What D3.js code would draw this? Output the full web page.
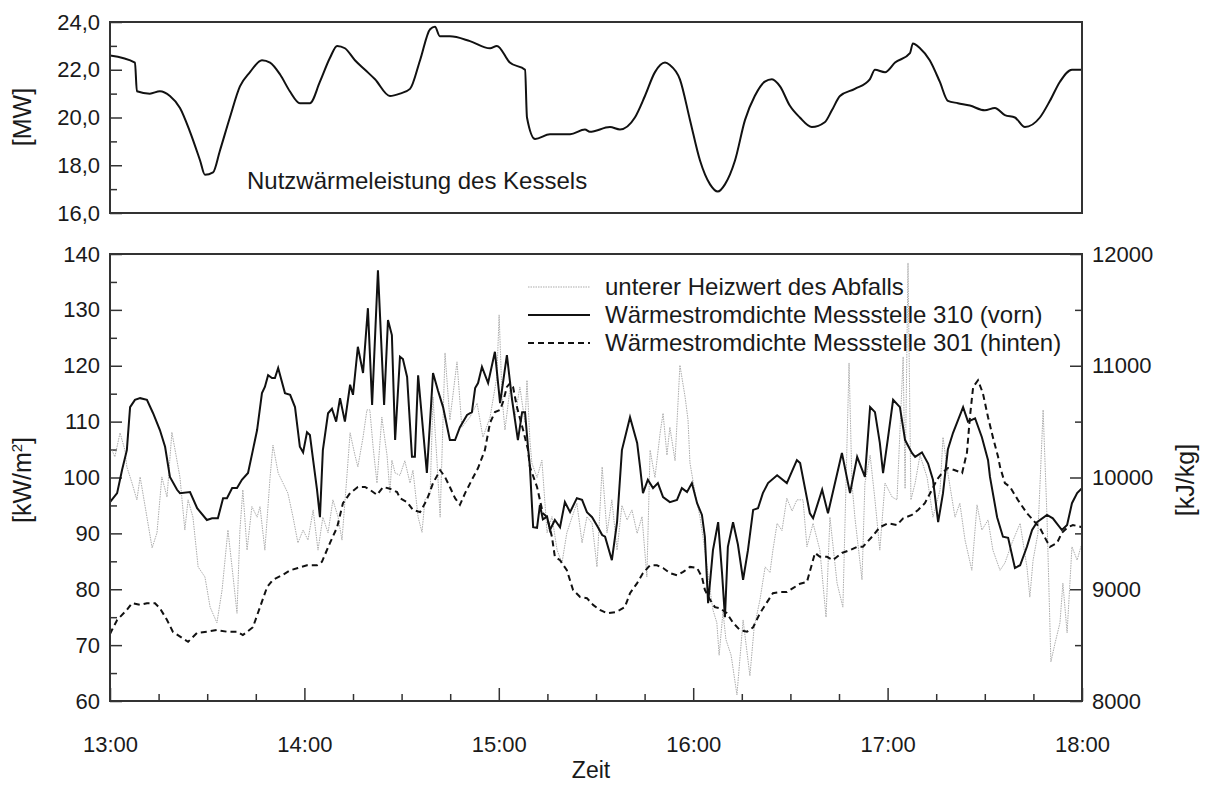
<!DOCTYPE html>
<html>
<head>
<meta charset="utf-8">
<script src="https://cdn.jsdelivr.net/npm/d3@7"></script>
<style>
  body { margin: 0; background: #fff; }
  text { font-family: "Liberation Sans", Arial, sans-serif; fill: #1a1a1a; }
</style>
</head>
<body>
<svg></svg>
<script>
// time in minutes after 13:00
const timeTicks = [0, 60, 120, 180, 240, 300];

// Nutzwärmeleistung des Kessels [MW]
const boiler = [[0,22.6],[7.7,22.3],[8.3,21.1],[12.3,21.0],[15.4,21.1],[18.5,20.9],[21.6,20.4],[24.7,19.4],[27.8,18.2],[29.3,17.6],[31.8,17.7],[33.9,18.6],[37.0,20.0],[40.1,21.3],[43.2,21.9],[46.9,22.4],[49.4,22.3],[52.5,21.8],[55.5,21.1],[58.6,20.6],[61.7,20.6],[64.8,21.5],[67.9,22.5],[70.1,23.0],[72.5,22.9],[75.6,22.4],[78.7,22.0],[81.8,21.6],[86.4,20.9],[89.5,21.0],[92.6,21.2],[95.7,22.4],[98.8,23.7],[100.3,23.8],[101.8,23.4],[104.9,23.4],[111.1,23.2],[117.3,22.9],[119.4,23.0],[123.4,22.3],[128.1,22.0],[128.7,20.0],[131.2,19.1],[135.8,19.3],[142,19.3],[146.6,19.5],[148.1,19.4],[154.3,19.6],[157.4,19.5],[162,20.0],[165.1,20.9],[168.2,21.9],[171.3,22.3],[172.8,22.2],[175.9,21.6],[179,19.9],[182.1,18.2],[185.2,17.2],[187.6,16.9],[189.8,17.2],[192.9,18.2],[196,19.9],[199,20.9],[202.1,21.5],[204.3,21.6],[206.8,21.3],[209.8,20.5],[212.9,20.0],[216.6,19.6],[220.6,19.8],[222.8,20.3],[225.3,20.9],[229.9,21.2],[234.5,21.6],[236.1,22.0],[239.2,21.9],[242.3,22.3],[246.9,22.7],[247.8,23.1],[250,22.9],[253,22.4],[256.1,21.5],[258.6,20.7],[261.7,20.6],[265.4,20.5],[270,20.3],[273.1,20.4],[276.2,20.1],[279.3,20.0],[282.4,19.6],[287,20.0],[290.1,20.7],[293.2,21.5],[296.9,22.0],[300,22.0]];

// unterer Heizwert des Abfalls [kJ/kg]
const heizwert = [[0.6,10245],[1.5,10185],[3.1,10400],[4.6,10245],[5.2,10095],[6.8,9950],[8.3,9800],[9.3,10005],[11.4,9645],[13.0,9370],[14.5,9505],[16.0,10005],[17.6,9825],[19.1,10405],[20.1,10245],[21.6,10000],[23.1,9530],[24.1,9800],[25.6,9645],[27.2,9200],[29.3,9110],[30.9,8840],[33.0,8700],[34.6,8995],[36.4,9530],[38.0,9110],[39.2,8785],[40.1,9530],[41.0,9890],[42.3,9350],[43.8,9740],[45.4,9645],[46.3,9740],[47.8,9350],[49.4,10000],[50.3,10290],[51.9,10040],[53.4,9950],[54.9,9860],[56.5,9645],[58.0,9415],[59.6,9530],[61.1,9440],[62.7,9710],[64.2,9350],[65.7,9645],[67.3,9505],[68.8,9800],[70.4,9645],[71.6,9440],[73.1,10005],[74.1,10400],[75.6,10200],[76.5,10095],[78.1,10360],[79.3,10605],[80.2,10605],[81.2,10275],[82.4,9950],[83.9,10540],[85.5,10200],[86.4,9860],[87.0,10155],[88.0,10040],[89.5,10020],[91.0,10150],[92.6,9950],[93.5,10065],[95.1,9645],[96.3,9510],[97.2,9800],[98.8,9850],[99.7,10720],[100.9,10155],[101.9,9645],[103.4,11115],[104.9,10515],[107.1,11035],[108.6,10450],[111.1,10540],[113.3,10665],[115.1,10360],[117.3,10540],[119.4,10900],[120.1,11455],[121.0,10720],[121.9,10425],[123.5,10810],[125.0,10540],[126.5,10810],[128.1,10490],[128.7,10870],[129.6,10335],[130.2,10130],[131.8,10000],[133.3,10155],[134.9,9505],[136.4,9650],[138.0,9350],[139.5,9235],[141.0,9505],[142.6,9645],[144.1,9770],[145.7,9415],[147.2,9650],[148.8,9590],[150.3,9200],[151.9,10095],[153.4,9505],[154.9,9800],[156.5,9350],[158.0,9750],[159.6,9620],[161.1,9710],[162.7,9500],[164.2,9650],[165.7,9110],[166.7,10245],[168.2,10000],[169.8,10400],[170.7,10575],[171.9,10200],[172.8,10450],[174.4,10150],[175.9,11005],[177.5,10720],[178.4,10515],[179.0,10130],[180.6,9860],[182.1,9645],[183.6,9350],[185.2,8995],[186.1,8815],[187.3,8700],[188.0,8410],[189.2,8800],[190.1,8550],[191.7,8410],[193.5,8055],[195.4,8725],[197.5,8225],[198.8,8655],[200.6,8905],[202.2,9200],[203.7,9150],[204.6,9350],[205.9,9590],[207.4,9525],[208.9,9815],[210.5,9700],[212.0,9800],[213.9,9800],[215.1,9380],[217.0,9590],[219.1,9350],[221.0,8750],[222.2,9645],[224.4,9055],[226.2,8840],[228.1,11025],[229.0,9950],[229.9,9645],[232.1,9085],[233.0,9950],[234.6,10200],[236.1,9800],[237.6,9350],[239.2,9950],[241.4,9825],[242.9,9800],[244.8,11080],[245.4,9900],[246.3,11920],[247.2,9800],[248.5,9950],[250.0,10200],[252.2,10000],[254.0,9645],[256.2,9890],[257.1,10360],[258.6,10040],[260.8,9645],[262.3,9770],[263.9,9440],[266.0,9170],[267.6,9755],[269.1,9530],[271.0,9620],[272.5,9350],[274.7,9170],[276.2,9235],[278.4,9415],[280.9,9590],[283.0,9200],[283.9,8930],[284.9,9260],[286.4,9500],[288.0,10605],[289.2,9645],[290.4,8350],[291.7,8520],[293.2,8700],[294.1,9055],[295.4,8610],[296.9,9380],[298.5,9260],[300,9415]];

// Wärmestromdichte Messstelle 310 (vorn) [kW/m²]
const front310 = [[0,95.6],[2.2,97.2],[3.7,101.3],[5.2,104.9],[6.2,112.6],[7.7,113.9],[9.3,114.2],[11.4,113.9],[13.3,111.5],[15.4,108.5],[17.0,105.5],[18.5,100.1],[20.7,97.8],[21.6,97.2],[24.7,97.4],[26.9,94.5],[29.9,92.4],[31.5,92.7],[33.3,92.7],[34.9,96.3],[36.1,96.3],[37.7,98.1],[39.2,98.1],[40.7,99.6],[42.6,100.8],[44.1,104.9],[45.4,108.5],[46.9,115.1],[47.8,116.2],[48.8,118.3],[50.0,117.8],[50.9,117.8],[51.9,119.6],[54.0,115.1],[55.6,114.8],[57.1,112.6],[58.6,105.5],[59.6,104.5],[60.8,108.1],[61.7,107.6],[62.7,103.1],[63.9,97.8],[64.8,92.9],[65.7,104.9],[67.3,111.5],[68.5,112.3],[69.8,110],[71.0,114.2],[72.5,110],[74.1,116.6],[75.0,114.8],[76.5,123.4],[78.1,118.7],[79.6,130.3],[80.9,113],[82.7,137.1],[84.6,113],[85.8,128.2],[87.0,125.5],[88.0,106.7],[89.5,121.6],[90.4,121.2],[91.7,118],[93.2,103.7],[94.1,103.7],[95.1,118.3],[97.8,100.8],[99.7,118.7],[101.2,115.6],[102.8,112.6],[104.9,106.7],[106.5,106.7],[108.0,109],[110.2,111.2],[111.7,111.7],[112.7,116],[113.6,116.9],[114.8,119.8],[116.7,116.9],[118.8,122.5],[120.4,113.3],[122.5,121.9],[124.1,113.9],[125.9,106.7],[127.2,111.7],[128.1,111.7],[129.0,105.5],[129.6,101.9],[130.6,91.1],[131.8,91],[132.7,95.1],[133.6,92.5],[134.9,93],[135.8,90.6],[137.3,92.4],[138.9,91.1],[140.4,95.6],[142.0,93.8],[144.1,96.3],[145.7,96],[147.2,93.8],[148.8,92.9],[150.6,91.1],[151.9,89.7],[152.8,89.4],[154.9,85.2],[156.5,92],[158.0,104.9],[160.5,110.8],[162.7,106.2],[163.6,101.9],[164.5,97.2],[166.0,99.6],[167.6,98.1],[169.1,99],[170.7,96.5],[172.8,95.6],[175.0,96],[176.5,98.1],[178.1,97.4],[179.6,99],[181.2,95.4],[182.7,93.3],[183.6,89.4],[184.6,77.5],[186.1,87],[187.7,92],[188.9,82.9],[189.8,75],[190.7,87.6],[192.3,92],[193.8,88],[195.4,81.7],[196.9,87],[198.5,94.2],[200.0,94.5],[201.5,97.2],[203.1,99],[205.9,100.4],[208.9,99],[212.0,103.1],[213.0,102.6],[216.0,93.6],[217.0,92.7],[219.8,97.8],[221.6,93.6],[225.9,104.4],[228.4,97.2],[230.6,103.7],[233.0,100.1],[234.6,112.6],[236.1,111.7],[237.6,106.2],[238.6,100.8],[240.1,107],[241.7,113.9],[243.8,112.6],[245.4,106.7],[247.5,104.4],[248.5,103.7],[250.6,104.5],[252.5,102.5],[254.0,99.6],[255.6,92],[257.1,97.2],[258.6,105],[260.2,108],[263.3,112.6],[264.8,110],[267.0,110.6],[269.1,107.2],[271.0,103.1],[271.6,100.1],[273.8,92.9],[275.6,89.4],[277.2,89.2],[279.3,83.8],[280.9,84.3],[283.0,87.6],[284.6,90.6],[286.1,92],[289.2,93.3],[291.0,92.7],[293.8,90.6],[295.4,91.5],[296.9,95.4],[298.5,97.2],[300,98.1]];

// Wärmestromdichte Messstelle 301 (hinten) [kW/m²]
const back301 = [[0,72],[0.6,72.7],[2.2,74.5],[5.2,76.3],[6.8,77.5],[9.3,77.2],[11.4,77.5],[13.9,77.5],[15.4,76.6],[17.6,74.5],[19.4,72.4],[22.2,71.3],[24.1,70.6],[26.9,72.2],[29.9,72.4],[33.0,72.7],[36.1,72.4],[39.2,72.4],[41.0,71.8],[44.1,73.2],[46.3,76.8],[48.5,80.4],[50.3,81.7],[53.1,82.5],[55.6,83.4],[58.0,83.8],[60.8,84.3],[63.9,84.3],[65.4,84.9],[67.9,88.3],[70.1,91.1],[71.9,95.4],[74.1,97.2],[76.5,98.3],[78.7,98.3],[80.2,97.8],[82.4,96.9],[84.3,98.3],[86.4,98],[88.6,97.4],[89.5,96.3],[91.7,95.6],[93.5,94.2],[95.7,93.8],[97.8,96],[99.7,99],[101.9,101.3],[103.4,100.1],[104.9,98.3],[106.5,96.3],[108.0,95.1],[109.6,97.2],[111.7,99.6],[113.6,101.7],[115.7,104.9],[117.3,109.8],[118.8,111.7],[120.4,112.1],[121.3,113.5],[122.5,116.2],[123.5,116.9],[124.4,116.2],[125.6,112.6],[127.5,108.5],[129.0,105],[129.6,101.9],[131.8,98.3],[133.6,93.6],[134.9,92.9],[136.4,89.4],[137.3,85.8],[138.9,85.2],[141.0,83.4],[142.9,79.9],[145.1,78.6],[147.2,78.4],[149.1,77.2],[151.2,76.3],[153.4,75.7],[155.9,75.9],[157.4,76.3],[158.9,76.8],[160.5,79.3],[162.7,81.1],[164.5,82.9],[166.7,84.3],[168.8,84.3],[170.7,83.8],[172.8,82.9],[175.0,82.5],[176.9,83.1],[179.0,84],[181.2,83.8],[182.7,82.2],[183.6,79.9],[185.2,78.1],[186.7,76.8],[188.3,76.6],[190.4,75.7],[192.3,74],[194.4,72.7],[196.6,72.4],[198.5,73.2],[200.6,75.7],[202.8,77.7],[204.6,79.3],[206.8,79.5],[208.9,79.5],[210.8,80.2],[213.0,81],[215.1,81.3],[217.6,86.5],[219.1,85.8],[221.3,85.8],[223.1,85.2],[225.9,86.5],[228.4,87],[230.6,87.6],[232.4,87.6],[235.2,89.4],[237.6,91.1],[240.1,91.8],[242.9,91.5],[244.8,92.7],[247.5,93.3],[249.4,94.2],[251.5,95.4],[253.7,97.8],[255.2,99.6],[256.8,100.8],[258.6,101.7],[260.8,101.3],[263.0,100.8],[264.5,104.5],[265.4,110.8],[266.4,116.2],[267.9,117.4],[269.4,115.1],[271.0,110.8],[272.5,107.2],[274.1,103.7],[274.7,101.9],[276.2,99],[277.8,98.3],[280.2,96],[283.0,93.6],[284.9,92.4],[287.0,91],[288.6,89.2],[290.1,87.6],[292.3,88.3],[293.8,90.1],[295.4,91],[297.2,91.5],[300,91.1]];

const legendLabels = [
  'unterer Heizwert des Abfalls',
  'Wärmestromdichte Messstelle 310 (vorn)',
  'Wärmestromdichte Messstelle 301 (hinten)'
];

const W = 1205, H = 785;
const svg = d3.select('svg').attr('width', W).attr('height', H);

const x = d3.scaleLinear().domain([0, 300]).range([110, 1082]);
const yTop = d3.scaleLinear().domain([16, 24]).range([213, 22]);
const yL = d3.scaleLinear().domain([60, 140]).range([701, 254]);
const yR = d3.scaleLinear().domain([8000, 12000]).range([701, 254]);

const fmtComma = d => d3.format('.1f')(d).replace('.', ',');
const fmtTime = m => (13 + m / 60) + ':00';

function styleAxis(g) {
  g.select('.domain').remove();
  g.selectAll('line').attr('stroke', '#333').attr('stroke-width', 1.5);
  g.selectAll('text').style('font-size', '22px').attr('fill', '#1a1a1a');
}

// ---------- top panel ----------
const defs = svg.append('defs');
defs.append('clipPath').attr('id', 'clipTop')
  .append('rect').attr('x', 110).attr('y', 22).attr('width', 972).attr('height', 191);
defs.append('clipPath').attr('id', 'clipBot')
  .append('rect').attr('x', 110).attr('y', 254).attr('width', 972).attr('height', 447);

svg.append('g').attr('transform', 'translate(110,0)')
  .call(d3.axisLeft(yTop).tickValues([17, 19, 21, 23]).tickSize(-7).tickFormat(''))
  .call(styleAxis);
svg.append('g').attr('transform', 'translate(110,0)')
  .call(d3.axisLeft(yTop).tickValues([16, 18, 20, 22, 24]).tickSize(-12).tickPadding(10).tickFormat(fmtComma))
  .call(styleAxis);

svg.append('path')
  .datum(boiler)
  .attr('clip-path', 'url(#clipTop)')
  .attr('d', d3.line().x(d => x(d[0])).y(d => yTop(d[1])).curve(d3.curveMonotoneX))
  .attr('fill', 'none')
  .attr('stroke', '#111')
  .attr('stroke-width', 2);

svg.append('rect')
  .attr('x', 110).attr('y', 22).attr('width', 972).attr('height', 191)
  .attr('fill', 'none').attr('stroke', '#333').attr('stroke-width', 2);

svg.append('text')
  .attr('x', 247).attr('y', 189)
  .style('font-size', '24px')
  .text('Nutzwärmeleistung des Kessels');

svg.append('text')
  .attr('transform', 'translate(31,117) rotate(-90)')
  .attr('text-anchor', 'middle')
  .style('font-size', '25px')
  .text('[MW]');

// ---------- bottom panel ----------
svg.append('g').attr('transform', 'translate(110,0)')
  .call(d3.axisLeft(yL).tickValues(d3.range(65, 140, 10)).tickSize(-7).tickFormat(''))
  .call(styleAxis);
svg.append('g').attr('transform', 'translate(110,0)')
  .call(d3.axisLeft(yL).tickValues(d3.range(60, 141, 10)).tickSize(-12).tickPadding(10))
  .call(styleAxis);

svg.append('g').attr('transform', 'translate(1082,0)')
  .call(d3.axisRight(yR).tickValues([8500, 9500, 10500, 11500]).tickSize(-7).tickFormat(''))
  .call(styleAxis);
svg.append('g').attr('transform', 'translate(1082,0)')
  .call(d3.axisRight(yR).tickValues([8000, 9000, 10000, 11000, 12000]).tickSize(-12).tickPadding(10).tickFormat(d3.format('d')))
  .call(styleAxis);

svg.append('g').attr('transform', 'translate(0,701)')
  .call(d3.axisBottom(x).tickValues(d3.range(15, 300, 15).filter(d => d % 60)).tickSize(-7).tickFormat(''))
  .call(styleAxis);
svg.append('g').attr('transform', 'translate(0,701)')
  .call(d3.axisBottom(x).tickValues(timeTicks).tickSize(-13).tickPadding(35).tickFormat(fmtTime))
  .call(styleAxis);

const plot = svg.append('g').attr('clip-path', 'url(#clipBot)');

plot.append('path')
  .datum(heizwert)
  .attr('d', d3.line().x(d => x(d[0])).y(d => yR(d[1])))
  .attr('fill', 'none')
  .attr('stroke', '#ababab')
  .attr('stroke-width', 1)
  .attr('stroke-dasharray', '1.5,1');

plot.append('path')
  .datum(back301)
  .attr('d', d3.line().x(d => x(d[0])).y(d => yL(d[1])))
  .attr('fill', 'none')
  .attr('stroke', '#111')
  .attr('stroke-width', 2)
  .attr('stroke-dasharray', '6,4');

plot.append('path')
  .datum(front310)
  .attr('d', d3.line().x(d => x(d[0])).y(d => yL(d[1])))
  .attr('fill', 'none')
  .attr('stroke', '#111')
  .attr('stroke-width', 2);

svg.append('rect')
  .attr('x', 110).attr('y', 254).attr('width', 972).attr('height', 447)
  .attr('fill', 'none').attr('stroke', '#333').attr('stroke-width', 2);

// legend
const legendStyles = [
  {stroke: '#ababab', width: 1, dash: '1.5,1'},
  {stroke: '#111', width: 2, dash: null},
  {stroke: '#111', width: 2, dash: '6,4'}
];
const legend = svg.append('g');
legendLabels.forEach((label, i) => {
  const yy = 287 + i * 28;
  legend.append('line')
    .attr('x1', 528).attr('x2', 590).attr('y1', yy).attr('y2', yy)
    .attr('stroke', legendStyles[i].stroke)
    .attr('stroke-width', legendStyles[i].width)
    .attr('stroke-dasharray', legendStyles[i].dash);
  legend.append('text')
    .attr('x', 605).attr('y', yy)
    .attr('dy', '0.35em')
    .style('font-size', '24px')
    .text(label);
});

// axis titles
const kw = svg.append('text')
  .attr('transform', 'translate(31,480) rotate(-90)')
  .attr('text-anchor', 'middle')
  .style('font-size', '25px');
kw.append('tspan').text('[kW/m');
kw.append('tspan').attr('dy', '-9').style('font-size', '15px').text('2');
kw.append('tspan').attr('dy', '9').text(']');

svg.append('text')
  .attr('transform', 'translate(1194,480) rotate(-90)')
  .attr('text-anchor', 'middle')
  .style('font-size', '25px')
  .text('[kJ/kg]');

svg.append('text')
  .attr('x', 591).attr('y', 778)
  .attr('text-anchor', 'middle')
  .style('font-size', '23px')
  .text('Zeit');
</script>
</body>
</html>
